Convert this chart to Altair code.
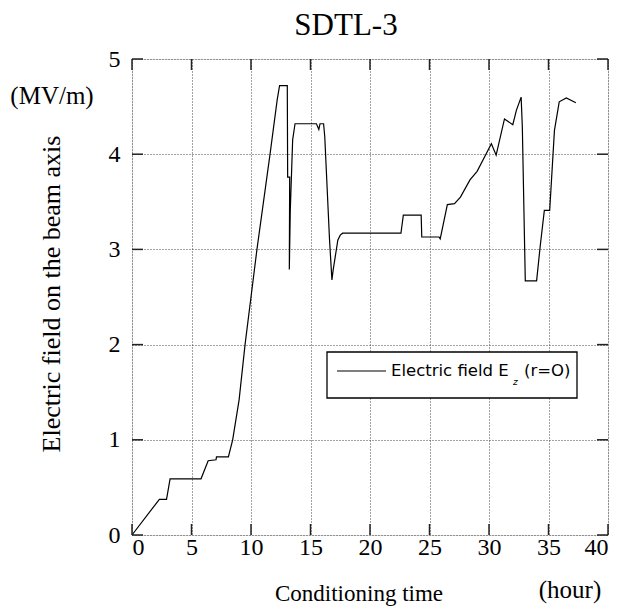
import altair as alt
import pandas as pd

hours = [0, 2.3, 2.9, 3.2, 5.8, 6.4, 7.06, 7.1, 8.1, 8.46,
         9.0, 9.5, 10.0, 10.5, 11.6, 12.2, 12.4, 13.05, 13.08, 13.25,
         13.22, 13.3, 13.5, 13.7, 15.5, 15.7, 15.8, 16.1, 16.2, 16.6,
         16.8, 16.9, 17.3, 17.5, 17.7, 22.6, 22.8, 24.3, 24.35, 25.8,
         25.9, 26.5, 27.1, 27.6, 28.4, 29.0, 29.7, 30.2, 30.6, 31.3,
         32.0, 32.3, 32.7, 32.8, 33.05, 34.0, 34.3, 34.65, 35.1, 35.5,
         35.9, 36.5, 37.3]
field = [0, 0.375, 0.375, 0.59, 0.59, 0.78, 0.79, 0.82, 0.82, 1.0,
         1.42, 2.0, 2.5, 3.0, 4.0, 4.57, 4.72, 4.72, 3.76, 3.76,
         2.79, 3.4, 4.15, 4.32, 4.32, 4.26, 4.32, 4.32, 4.18, 3.1,
         2.68, 2.78, 3.1, 3.15, 3.17, 3.17, 3.36, 3.36, 3.13, 3.13,
         3.11, 3.47, 3.48, 3.55, 3.73, 3.82, 3.99, 4.11, 3.99, 4.37,
         4.31, 4.46, 4.60, 4.29, 2.67, 2.67, 3.03, 3.41, 3.41, 4.25,
         4.55, 4.59, 4.54]
x_ticks = [0, 5, 10, 15, 20, 25, 30, 35, 40]
y_ticks = [0, 1, 2, 3, 4, 5]

W, H = 476, 476
serif = "Liberation Serif"
sans = "DejaVu Sans"

df = pd.DataFrame({"t": hours, "e": field, "i": list(range(len(hours)))})
xt = pd.DataFrame({"v": x_ticks})
yt = pd.DataFrame({"v": y_ticks})
one = pd.DataFrame({"a": [0]})

xscale = alt.Scale(domain=[0, 40], nice=False)
yscale = alt.Scale(domain=[0, 5], nice=False)

xaxis = alt.Axis(values=x_ticks, format="d", grid=True, gridDash=[1, 2],
                 gridColor="#444", gridWidth=1, ticks=False, domain=False,
                 labelFont=serif, labelFontSize=24, labelColor="black",
                 labelPadding=0, title=None)
yaxis = alt.Axis(values=y_ticks, format="d", grid=True, gridDash=[1, 2],
                 gridColor="#444", gridWidth=1, ticks=False, domain=False,
                 labelFont=serif, labelFontSize=24, labelColor="black",
                 labelPadding=12, title=None)

line = alt.Chart(df).mark_line(color="black", strokeWidth=1.2).encode(
    x=alt.X("t:Q", scale=xscale, axis=xaxis),
    y=alt.Y("e:Q", scale=yscale, axis=yaxis),
    order="i:Q",
)

tick_style = dict(color="#222", strokeWidth=1.5)
xt_bottom = alt.Chart(xt).mark_rule(**tick_style).encode(
    x=alt.X("v:Q", scale=xscale), y=alt.value(H), y2=alt.value(H - 11))
xt_top = alt.Chart(xt).mark_rule(**tick_style).encode(
    x=alt.X("v:Q", scale=xscale), y=alt.value(0), y2=alt.value(11))
yt_left = alt.Chart(yt).mark_rule(**tick_style).encode(
    y=alt.Y("v:Q", scale=yscale), x=alt.value(0), x2=alt.value(11))
yt_right = alt.Chart(yt).mark_rule(**tick_style).encode(
    y=alt.Y("v:Q", scale=yscale), x=alt.value(W), x2=alt.value(W - 11))


def label(text, x, y, font=serif, size=24, align="center", baseline="middle",
          angle=0, style="normal"):
    kw = dict(text=text, font=font, fontSize=size, align=align,
              baseline=baseline, color="black", fontStyle=style)
    if angle:
        kw["angle"] = angle
    return alt.Chart(one).mark_text(**kw).encode(x=alt.value(x), y=alt.value(y))


leg_box = alt.Chart(one).mark_rect(fill="white", stroke="black", strokeWidth=1.3).encode(
    x=alt.value(195), x2=alt.value(445), y=alt.value(293), y2=alt.value(339))
leg_line = alt.Chart(one).mark_rule(color="black", strokeWidth=1.2).encode(
    x=alt.value(205), x2=alt.value(254), y=alt.value(312))
leg_t1 = label("Electric field E", 259, 312, font=sans, size=16.5, align="left")
leg_t2 = label("z", 381, 323, font=sans, size=9, align="left", style="italic")
leg_t3 = label("(r=O)", 392, 312, font=sans, size=16.5, align="left")

title = label("SDTL-3", 214, -24, size=31, baseline="alphabetic")
unit_y = label("(MV/m)", -80, 37, size=25)
unit_x = label("(hour)", 438, 539, size=25, baseline="alphabetic")
x_title = label("Conditioning time", 227, 542, size=23, baseline="alphabetic")
y_title = label("Electric field on the beam axis", -80, 235, size=26, angle=270)

chart = alt.layer(
    line, xt_bottom, xt_top, yt_left, yt_right,
    leg_box, leg_line, leg_t1, leg_t2, leg_t3,
    title, unit_y, unit_x, x_title, y_title,
).properties(
    width=W, height=H,
    autosize=alt.AutoSizeParams(type="none"),
    padding={"left": 124, "top": 51, "right": 5, "bottom": 72},
).configure_view(stroke="#222", strokeWidth=1.5).configure_axis(
    labelFont=serif
).configure(background="white")

chart.save("out.html", embed_options={"renderer": "svg", "actions": False})
